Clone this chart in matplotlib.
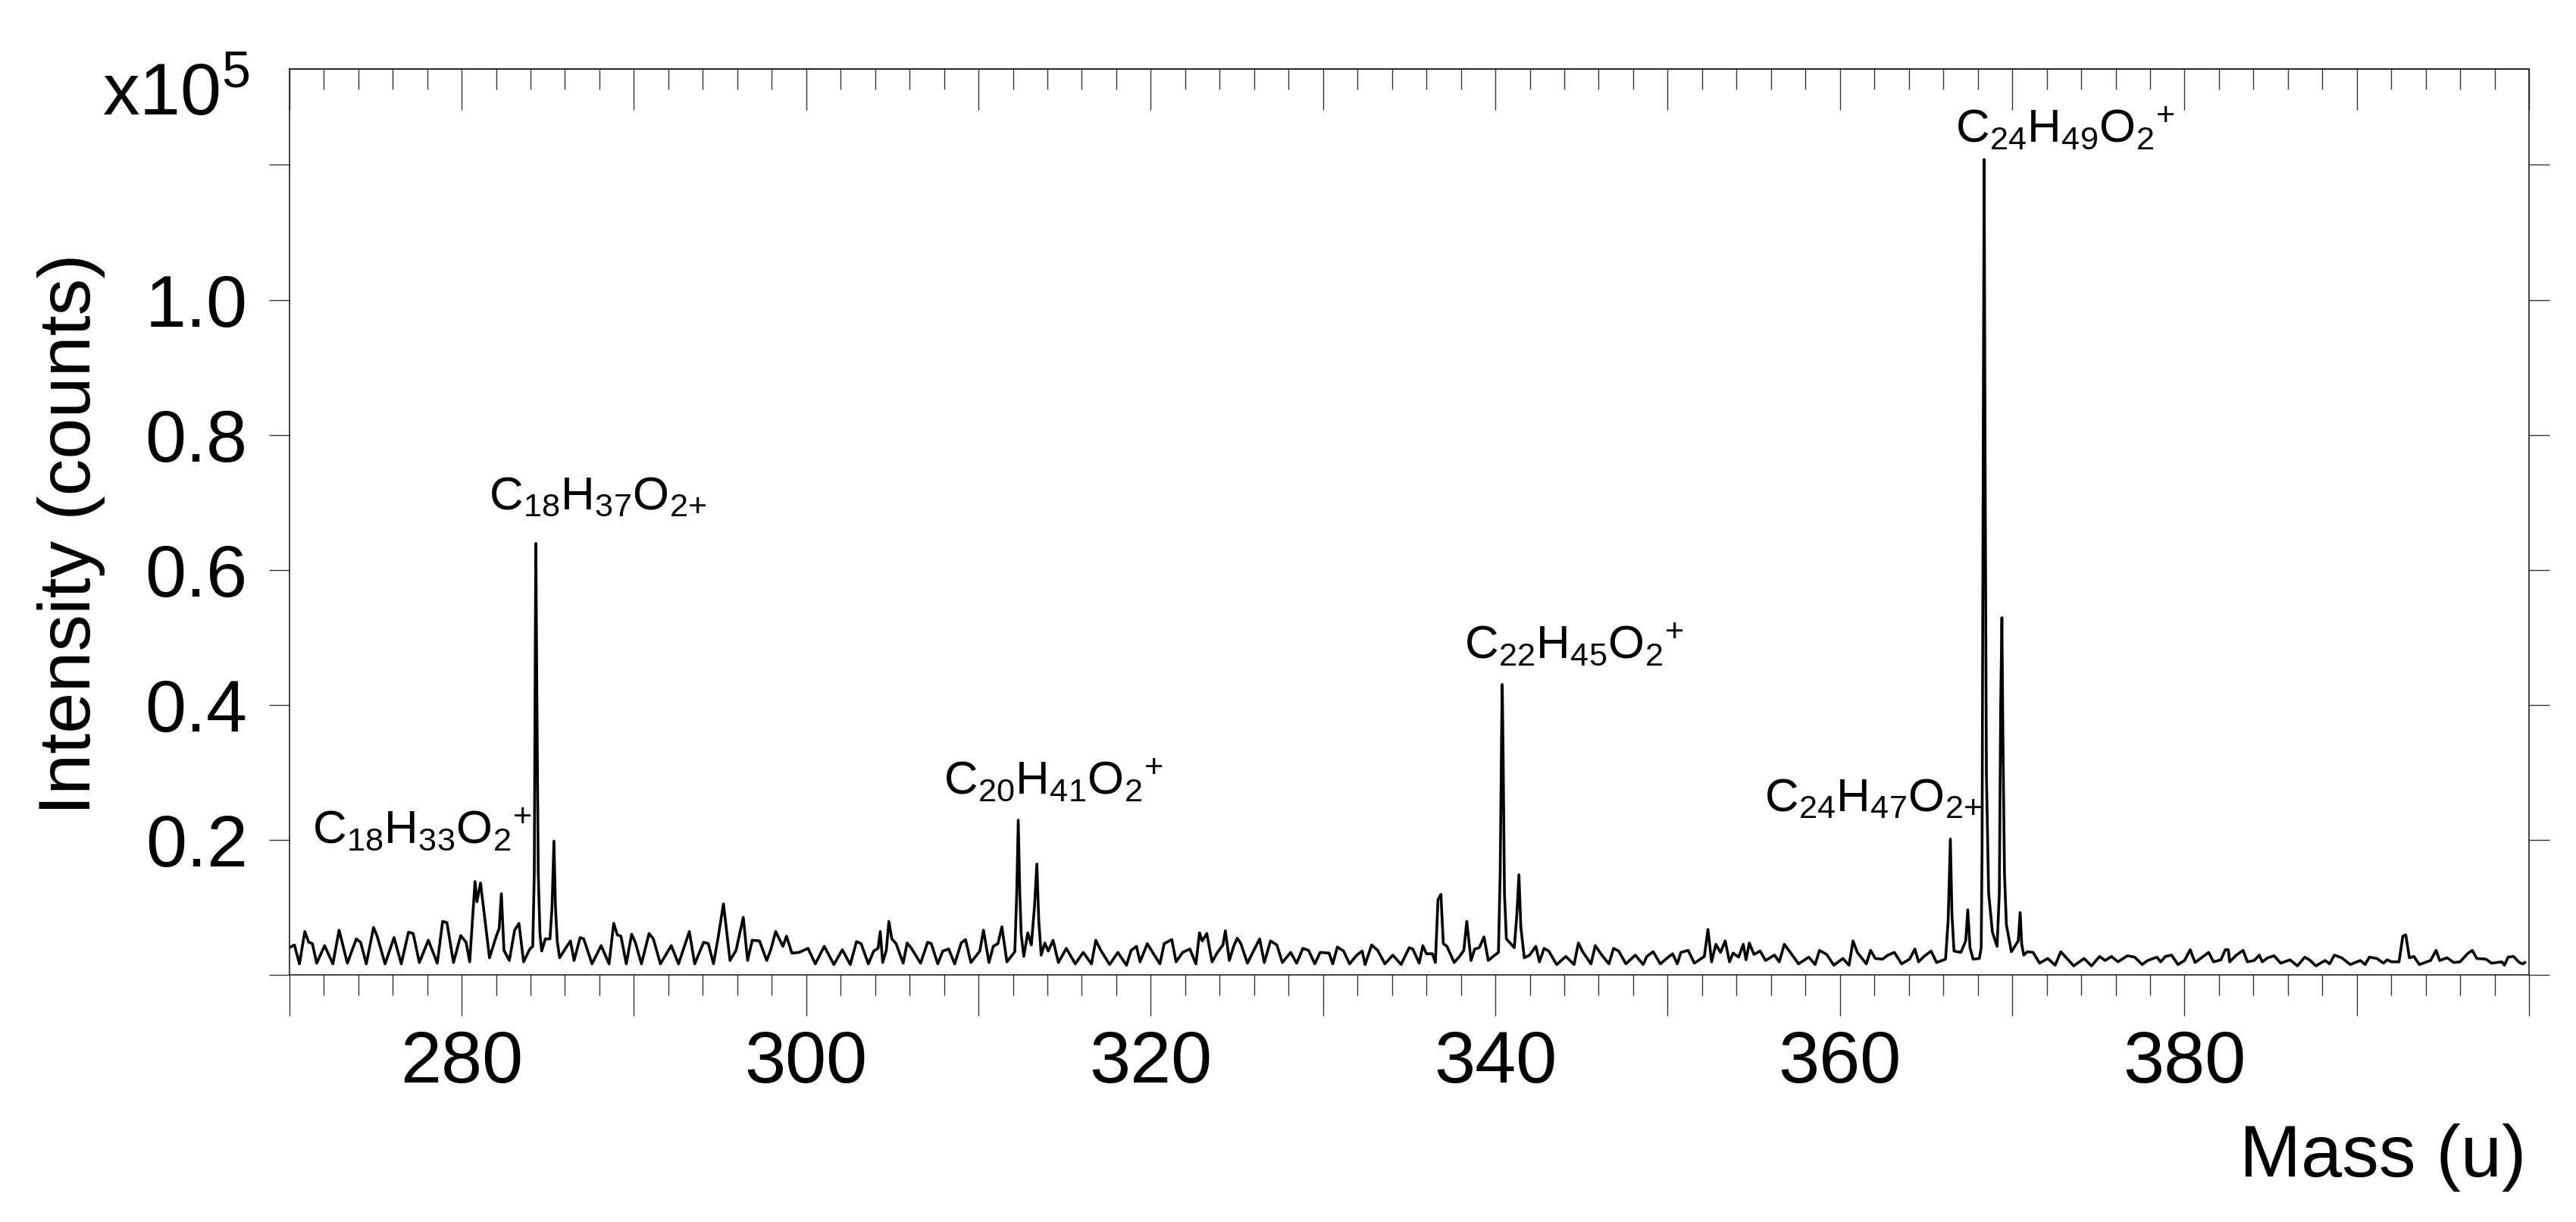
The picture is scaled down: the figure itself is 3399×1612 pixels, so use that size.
import matplotlib as mpl
mpl.use('Agg')
import matplotlib.pyplot as plt
from matplotlib.ticker import FixedLocator, FuncFormatter

plt.rcParams['font.family'] = ['Liberation Sans', 'DejaVu Sans']
plt.rcParams['mathtext.fontset'] = 'custom'
plt.rcParams['mathtext.rm'] = 'Liberation Sans'
plt.rcParams['mathtext.it'] = 'Liberation Sans:italic'
plt.rcParams['mathtext.bf'] = 'Liberation Sans:bold'

# spectrum (mass in u, intensity in 1e5 counts)
mass = [
    270.00, 270.30, 270.59, 270.90, 271.13, 271.34, 271.59, 272.05,
    272.53, 272.89, 273.37, 273.89, 274.14, 274.47, 274.89, 275.10,
    275.56, 276.08, 276.50, 276.92, 277.19, 277.55, 278.07, 278.59,
    278.90, 279.15, 279.53, 279.95, 280.26, 280.47, 280.78, 280.89,
    281.10, 281.62, 282.04, 282.18, 282.31, 282.46, 282.77, 283.08,
    283.33, 283.60, 283.96, 284.13, 284.22, 284.28, 284.31, 284.36,
    284.45, 284.55, 284.65, 284.86, 285.13, 285.25, 285.36, 285.45,
    285.55, 285.69, 286.01, 286.32, 286.53, 286.88, 287.09, 287.57,
    288.10, 288.56, 288.83, 289.04, 289.25, 289.56, 289.87, 290.08,
    290.44, 290.88, 291.13, 291.54, 292.17, 292.59, 293.22, 293.53,
    294.05, 294.32, 294.62, 294.89, 295.20, 295.58, 295.93, 296.35,
    296.60, 296.87, 297.29, 297.71, 297.96, 298.23, 298.65, 298.86,
    299.17, 299.59, 300.11, 300.53, 301.05, 301.61, 302.10,
    302.56, 302.92, 303.19, 303.61, 303.92, 304.17, 304.30, 304.44,
    304.65, 304.80, 304.97, 305.22, 305.63, 305.86, 306.11, 306.64,
    307.05, 307.26, 307.64, 307.93, 308.27, 308.62, 309.00, 309.25,
    309.56, 310.08, 310.29, 310.61, 310.86, 311.13, 311.36, 311.65,
    312.11, 312.22, 312.31, 312.40, 312.48, 312.63, 312.86, 313.07,
    313.25, 313.39, 313.50, 313.64, 313.85, 314.05, 314.33, 314.64,
    315.10, 315.62, 316.08, 316.56, 316.81, 317.08, 317.61, 318.09,
    318.59, 318.86, 319.17, 319.38, 319.80, 320.11, 320.53, 320.78,
    321.22, 321.47, 321.85, 322.27, 322.62, 322.83, 322.99, 323.25,
    323.56, 323.87, 324.19, 324.33, 324.56, 324.81, 325.02, 325.23,
    325.61, 325.96, 326.32, 326.59, 326.95, 327.32, 327.64, 328.12,
    328.47, 328.83, 329.16, 329.52, 329.83, 330.35, 330.56, 330.83,
    331.19, 331.54, 331.96, 332.27, 332.44, 332.82, 333.17, 333.59,
    334.05, 334.53,
    335.00, 335.21, 335.58, 335.79, 336.00, 336.35, 336.52, 336.67,
    336.84, 336.98, 337.19, 337.61, 337.92, 338.17, 338.34, 338.59,
    338.80, 339.07, 339.34, 339.59, 339.97, 340.18, 340.28, 340.36,
    340.40, 340.45, 340.53, 340.64, 340.89, 341.10, 341.25, 341.37,
    341.48, 341.68, 341.99, 342.35, 342.56, 342.83, 343.10, 343.56,
    344.09, 344.57, 344.82, 345.07, 345.55, 345.80, 346.18, 346.59,
    346.86, 347.16, 347.58, 348.12, 348.58, 348.79, 349.16, 349.58,
    349.94, 350.29, 350.56, 350.77, 351.19, 351.55, 352.13, 352.34,
    352.55, 352.80, 353.07, 353.34, 353.59, 353.80, 354.12, 354.39,
    354.55, 354.74, 355.01, 355.37, 355.68, 356.20, 356.48, 356.77,
    357.15, 357.60, 358.19, 358.56, 358.81, 359.23, 359.65, 360.17,
    360.53, 360.76, 361.01, 361.53, 361.78, 362.05, 362.47, 362.79,
    363.16, 363.58, 364.04, 364.35, 364.56, 364.88, 365.29, 365.61,
    366.13, 366.28, 366.41, 366.50, 366.62, 367.02, 367.30, 367.42,
    367.55, 367.73, 368.09, 368.20, 368.25, 368.33, 368.37, 368.42,
    368.50, 368.58, 368.63, 368.85, 369.12, 369.25, 369.33, 369.40,
    369.46, 369.55, 369.66, 369.95, 370.35, 370.46, 370.55, 370.67,
    370.88, 371.21, 371.59, 372.06, 372.49, 372.82, 373.14, 373.57,
    374.17, 374.60, 375.07, 375.39, 375.76, 376.14, 376.68, 377.11,
    377.54, 377.86, 378.40, 378.61, 378.89, 379.25, 379.62, 380.00,
    380.33, 380.61, 381.03, 381.40, 381.68, 382.11, 382.37, 382.54,
    382.62, 383.01, 383.40, 383.65, 384.04, 384.34, 384.51, 384.83,
    385.20, 385.58, 386.12, 386.55, 386.98, 387.30, 387.62, 388.16,
    388.42, 388.70, 389.12, 389.62, 390.20, 390.48, 390.73, 391.16,
    391.55, 391.76, 392.02, 392.45, 392.67, 392.84, 393.05, 393.31,
    393.63, 394.28, 394.60, 394.81, 395.24, 395.63, 395.99, 396.42,
    396.70, 396.96, 397.49, 397.82, 398.42, 398.57, 398.78, 399.10,
    399.43, 399.64, 399.75,
]
intensity = [
    0.040, 0.044, 0.016, 0.064, 0.048, 0.046, 0.017, 0.043,
    0.016, 0.066, 0.017, 0.053, 0.048, 0.016, 0.070, 0.057,
    0.016, 0.055, 0.016, 0.063, 0.061, 0.018, 0.051, 0.017,
    0.079, 0.077, 0.018, 0.058, 0.048, 0.019, 0.138, 0.108,
    0.136, 0.025, 0.059, 0.068, 0.120, 0.036, 0.021, 0.066,
    0.076, 0.019, 0.038, 0.042, 0.150, 0.500, 0.639, 0.450,
    0.150, 0.060, 0.035, 0.053, 0.053, 0.100, 0.198, 0.100,
    0.050, 0.025, 0.038, 0.050, 0.021, 0.055, 0.053, 0.016,
    0.043, 0.016, 0.076, 0.059, 0.057, 0.016, 0.060, 0.048,
    0.016, 0.061, 0.053, 0.016, 0.043, 0.016, 0.064, 0.016,
    0.048, 0.046, 0.016, 0.055, 0.105, 0.021, 0.036, 0.085,
    0.021, 0.051, 0.050, 0.021, 0.038, 0.064, 0.042, 0.057,
    0.032, 0.033, 0.039, 0.016, 0.042, 0.015, 0.037,
    0.015, 0.049, 0.046, 0.016, 0.035, 0.039, 0.064, 0.018,
    0.036, 0.079, 0.053, 0.046, 0.017, 0.047, 0.039, 0.017,
    0.048, 0.046, 0.016, 0.035, 0.038, 0.016, 0.047, 0.052,
    0.018, 0.035, 0.066, 0.018, 0.042, 0.046, 0.071, 0.019,
    0.034, 0.120, 0.229, 0.120, 0.060, 0.027, 0.062, 0.044,
    0.100, 0.164, 0.080, 0.029, 0.047, 0.035, 0.051, 0.018,
    0.039, 0.016, 0.033, 0.016, 0.051, 0.037, 0.015, 0.033,
    0.014, 0.036, 0.042, 0.019, 0.046, 0.033, 0.016, 0.046,
    0.052, 0.019, 0.033, 0.038, 0.016, 0.062, 0.050, 0.061,
    0.019, 0.033, 0.044, 0.065, 0.021, 0.042, 0.054, 0.046,
    0.017, 0.035, 0.053, 0.018, 0.050, 0.044, 0.018, 0.033,
    0.017, 0.039, 0.036, 0.016, 0.033, 0.032, 0.016, 0.041,
    0.035, 0.016, 0.029, 0.035, 0.015, 0.044, 0.036, 0.016,
    0.029, 0.015,
    0.040, 0.038, 0.017, 0.043, 0.031, 0.031, 0.018, 0.111,
    0.119, 0.046, 0.042, 0.018, 0.027, 0.036, 0.079, 0.021,
    0.038, 0.040, 0.056, 0.021, 0.029, 0.033, 0.150, 0.350,
    0.430, 0.330, 0.120, 0.053, 0.046, 0.040, 0.090, 0.148,
    0.070, 0.025, 0.029, 0.042, 0.019, 0.039, 0.035, 0.015,
    0.027, 0.015, 0.047, 0.034, 0.016, 0.043, 0.029, 0.016,
    0.039, 0.035, 0.016, 0.029, 0.015, 0.027, 0.034, 0.016,
    0.024, 0.031, 0.016, 0.033, 0.036, 0.017, 0.027, 0.067,
    0.019, 0.045, 0.033, 0.050, 0.019, 0.032, 0.026, 0.045,
    0.022, 0.047, 0.030, 0.035, 0.021, 0.029, 0.019, 0.045,
    0.032, 0.016, 0.026, 0.015, 0.036, 0.030, 0.014, 0.024,
    0.014, 0.050, 0.033, 0.016, 0.036, 0.024, 0.023, 0.029,
    0.033, 0.016, 0.023, 0.038, 0.019, 0.027, 0.035, 0.018,
    0.023, 0.080, 0.201, 0.090, 0.035, 0.033, 0.050, 0.096,
    0.040, 0.023, 0.024, 0.040, 0.190, 0.900, 1.208, 0.800,
    0.300, 0.190, 0.121, 0.063, 0.042, 0.120, 0.400, 0.529,
    0.350, 0.150, 0.074, 0.034, 0.050, 0.092, 0.045, 0.029,
    0.034, 0.033, 0.017, 0.024, 0.014, 0.034, 0.025, 0.013,
    0.024, 0.013, 0.027, 0.021, 0.027, 0.019, 0.028, 0.026,
    0.015, 0.021, 0.026, 0.019, 0.027, 0.029, 0.015, 0.021,
    0.037, 0.018, 0.026, 0.033, 0.019, 0.022, 0.037, 0.037,
    0.019, 0.029, 0.036, 0.019, 0.021, 0.029, 0.019, 0.025,
    0.028, 0.017, 0.022, 0.013, 0.026, 0.021, 0.013, 0.021,
    0.016, 0.029, 0.025, 0.015, 0.021, 0.015, 0.026, 0.024,
    0.017, 0.022, 0.019, 0.019, 0.057, 0.059, 0.025, 0.027,
    0.015, 0.021, 0.036, 0.021, 0.025, 0.018, 0.019, 0.031,
    0.036, 0.024, 0.023, 0.017, 0.019, 0.014, 0.026, 0.027,
    0.018, 0.016, 0.018,
]

# peak labels
ion_labels = [
    r'$\mathregular{C_{18}H_{33}O_{2}{}^{+}}$',
    r'$\mathregular{C_{18}H_{37}O_{2{+}}}$',
    r'$\mathregular{C_{20}H_{41}O_{2}{}^{+}}$',
    r'$\mathregular{C_{22}H_{45}O_{2}{}^{+}}$',
    r'$\mathregular{C_{24}H_{47}O_{2{+}}}$',
    r'$\mathregular{C_{24}H_{49}O_{2}{}^{+}}$',
]
label_x = [271.32, 281.57, 307.97, 338.20, 355.62, 366.70]
label_y = [0.195, 0.690, 0.2685, 0.4693, 0.2424, 1.2345]

x_major = list(range(270, 401, 10))
x_minor = list(range(270, 401, 2))
y_major = [0.0, 0.2, 0.4, 0.6, 0.8, 1.0, 1.2]

fig = plt.figure(figsize=(33.99, 16.12), dpi=100)
ax = fig.add_axes([0.1123, 0.2024, 0.8695, 0.7411])

ax.plot(mass, intensity, color='black', linewidth=2.6)
ax.set_xlim(270, 400)
ax.set_ylim(0, 1.342)

for sp in ax.spines.values():
    sp.set_linewidth(1.2)
    sp.set_color('#222222')

ax.xaxis.set_major_locator(FixedLocator(x_major))
ax.xaxis.set_minor_locator(FixedLocator(x_minor))
ax.xaxis.set_major_formatter(FuncFormatter(
    lambda v, p: f'{v:.0f}' if (v % 20 == 0 and 280 <= v <= 380) else ''))
ax.yaxis.set_major_locator(FixedLocator(y_major))
ax.yaxis.set_major_formatter(FuncFormatter(
    lambda v, p: f'{v:.1f}' if 0.1 < v < 1.1 else ''))

ax.tick_params(axis='x', which='major', direction='out', length=39, width=1.0,
               labelsize=70, pad=13, top=False, color='#333333')
ax.tick_params(axis='x', which='minor', direction='out', length=19.5, width=1.0,
               top=False, color='#333333')
ax.tick_params(axis='y', which='major', direction='out', length=19.5, width=1.0,
               labelsize=70, pad=20, right=True, color='#333333')

# top axis ticks point inward
sec = ax.secondary_xaxis('top')
sec.xaxis.set_major_locator(FixedLocator(x_major))
sec.xaxis.set_minor_locator(FixedLocator(x_minor))
sec.tick_params(axis='x', which='major', direction='in', length=39, width=1.0,
                labeltop=False, color='#333333')
sec.tick_params(axis='x', which='minor', direction='in', length=19.5, width=1.0,
                color='#333333')
sec.spines['top'].set_linewidth(1.2)
sec.spines['top'].set_color('#222222')

for lab, lx, ly in zip(ion_labels, label_x, label_y):
    ax.text(lx, ly, lab, fontsize=44.5, ha='left', va='baseline')

fig.text(0.0397, 0.9057, r'x10$^{5}$', fontsize=70, ha='left', va='baseline')
fig.text(0.0277, 0.5627, 'Intensity (counts)', fontsize=70, rotation=90,
         ha='center', va='center')
fig.text(0.9806, 0.0372, 'Mass (u)', fontsize=70, ha='right', va='baseline')

fig.savefig('out.png', dpi=100)
